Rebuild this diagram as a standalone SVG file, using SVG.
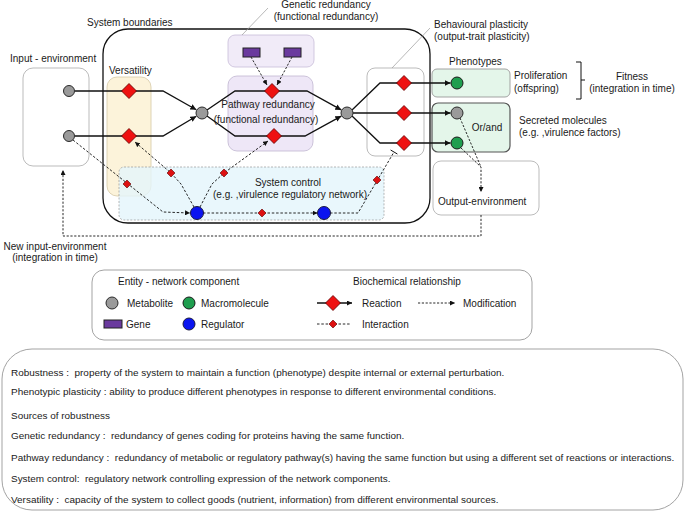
<svg xmlns="http://www.w3.org/2000/svg" width="685" height="512" viewBox="0 0 685 512">
<defs>
<style>
text{font-family:"Liberation Sans",Arial,sans-serif;font-size:10px;fill:#1a1a1a;white-space:pre}
.sm{font-size:9.95px}
.mid{text-anchor:middle}
.met{fill:#9a9a9a;stroke:#2a2a2a;stroke-width:1}
.mac{fill:#1f9e4f;stroke:#1a1a1a;stroke-width:1}
.reg{fill:#0a14f0;stroke:#1a1a40;stroke-width:1}
.gene{fill:#6a3a9e;stroke:#222;stroke-width:1}
.rx{fill:#ee1111;stroke:#5a0000;stroke-width:0.8}
.ix{fill:#dd1111;stroke:#5a0000;stroke-width:0.6}
.react{fill:none;stroke:#111;stroke-width:1.3}
.mod{fill:none;stroke:#111;stroke-width:0.9;stroke-dasharray:2.2,1.6}
.int{fill:none;stroke:#111;stroke-width:0.9;stroke-dasharray:2.5,1.8}
.lead{fill:none;stroke:#999;stroke-width:0.7}
.env{fill:#fff;stroke:#aaa;stroke-width:0.8}
</style>
<marker id="ah" viewBox="0 0 10 10" refX="10" refY="5" markerWidth="6" markerHeight="6" markerUnits="userSpaceOnUse" orient="auto">
<path d="M0,0 L10,5 L0,10 z" fill="#111"/>
</marker>
<marker id="ahs" viewBox="0 0 10 10" refX="10" refY="5" markerWidth="5" markerHeight="5" markerUnits="userSpaceOnUse" orient="auto">
<path d="M0,0 L10,5 L0,10 z" fill="#111"/>
</marker>
<path id="dia" d="M0,-7.5 L7.5,0 L0,7.5 L-7.5,0 z"/>
<path id="sdia" d="M0,-4 L4,0 L0,4 L-4,0 z"/>
</defs>
<rect width="685" height="512" fill="#fff"/>

<!-- region boxes -->
<g id="input-environment">
<rect x="23" y="68" width="66" height="98" rx="10" class="env"/>
<text x="10" y="62">Input - environment</text>
</g>
<g id="system-boundaries">
<rect x="103" y="29" width="327" height="194" rx="25" fill="none" stroke="#111" stroke-width="1.3"/>
<text x="87" y="26">System boundaries</text>
</g>
<g id="versatility">
<rect x="107" y="77" width="44" height="119" rx="10" fill="#fcf3da" stroke="#d6c9a6" stroke-width="0.8"/>
<text x="109" y="74">Versatility</text>
</g>
<g id="genetic-redundancy">
<rect x="228" y="35" width="86" height="32" rx="7" fill="#f1ebf8" stroke="#c8bcd8" stroke-width="0.8"/>
<line x1="242" y1="35" x2="268" y2="8" class="lead"/>
<text x="326" y="8" class="mid">Genetic redundancy</text>
<text x="326" y="20" class="mid">(functional redundancy)</text>
</g>
<g id="pathway-redundancy">
<rect x="228" y="76" width="85" height="75" rx="9" fill="#eee7f7" stroke="#c0b6d0" stroke-width="0.8"/>
</g>
<g id="system-control">
<rect x="119" y="167" width="265" height="53" rx="5" fill="#e3f5fb" fill-opacity="0.8" stroke="#888" stroke-width="0.6" stroke-dasharray="2,1.5"/>
<text x="288" y="186" class="mid">System control</text>
<text x="290" y="197.5" class="mid">(e.g. ,virulence regulatory network)</text>
</g>
<g id="behavioural-plasticity">
<rect x="367" y="68" width="57" height="88" rx="8" fill="none" stroke="#aaa" stroke-width="0.8"/>
<line x1="392" y1="68" x2="430" y2="28" class="lead"/>
<text x="434" y="28">Behavioural plasticity</text>
<text x="434" y="39.5">(output-trait plasticity)</text>
</g>
<g id="phenotypes">
<text x="449" y="65">Phenotypes</text>
<rect x="432" y="69" width="78" height="28" rx="5" fill="#e4f6ea" stroke="#999" stroke-width="0.9"/>
<rect x="432" y="103" width="78" height="49" rx="6" fill="#e4f6ea" stroke="#555" stroke-width="1.2"/>
<text x="487" y="131" class="mid">Or/and</text>
<text x="514" y="79">Proliferation</text>
<text x="514" y="92">(offspring)</text>
<path d="M576,62 H581 V99 H576 M581,80 H585" fill="none" stroke="#111" stroke-width="1"/>
<text x="632" y="79.5" class="mid">Fitness</text>
<text x="632" y="92" class="mid">(integration in time)</text>
<text x="519" y="123.5">Secreted molecules</text>
<text x="519" y="136">(e.g. ,virulence factors)</text>
</g>
<g id="output-environment">
<rect x="433" y="161" width="106" height="54" rx="8" class="env"/>
<text x="438" y="204.5">Output-environment</text>
</g>
<g id="new-input-label">
<text x="55" y="249.5" class="mid">New input-environment</text>
<text x="55" y="261" class="mid">(integration in time)</text>
</g>
<g id="pathway-label">
<text x="268" y="108" class="mid">Pathway redundancy</text>
<text x="266" y="123" class="mid">(functional redundancy)</text>
</g>

<!-- connectors -->
<g id="connectors">
<polyline class="react" points="75,91 163,91 196.3,109.8" marker-end="url(#ah)"/>
<polyline class="react" points="75,136 163,136 196.3,116.2" marker-end="url(#ah)"/>
<polyline class="react" points="207,110 235,91 307,91 341.3,109.9" marker-end="url(#ah)"/>
<polyline class="react" points="207,116 235,136 305,136 341.3,116.1" marker-end="url(#ah)"/>
<polyline class="react" points="352,110 380,83 450.5,83" marker-end="url(#ah)"/>
<polyline class="react" points="353,113 450.5,113" marker-end="url(#ah)"/>
<polyline class="react" points="352,116 380,143 450.5,143" marker-end="url(#ah)"/>
<line class="mod" x1="251" y1="57" x2="267" y2="85" marker-end="url(#ahs)"/>
<line class="mod" x1="292" y1="57" x2="277" y2="85" marker-end="url(#ahs)"/>
<polyline class="mod" points="460,118 481,167" />
<polyline class="mod" points="461,148 481,167 481,192" marker-end="url(#ahs)"/>
<polyline class="mod" points="481,215 481,236 63,236 63,170" marker-end="url(#ahs)"/>
<polyline class="int" points="73,140 163,212 190,213" marker-end="url(#ahs)"/>
<polyline class="int" points="194,207 181,184 171,173 135,142" marker-end="url(#ahs)"/>
<polyline class="int" points="200,207 212,184 224,173 268,141" marker-end="url(#ahs)"/>
<polyline class="int" points="203,213 317.5,213" marker-end="url(#ahs)"/>
<polyline class="int" points="330,213 358,213 394,152"/>
<line x1="390.6" y1="150" x2="397.4" y2="154" stroke="#111" stroke-width="1"/>
</g>

<!-- nodes -->
<g id="metabolite-in-1"><circle cx="69" cy="91" r="5.5" class="met"/></g>
<g id="metabolite-in-2"><circle cx="69" cy="136" r="5.5" class="met"/></g>
<g id="reaction-v1"><use href="#dia" x="129" y="91" class="rx"/></g>
<g id="reaction-v2"><use href="#dia" x="129" y="136" class="rx"/></g>
<g id="metabolite-hub-1"><circle cx="202" cy="113" r="6" class="met"/></g>
<g id="gene-1"><rect x="243" y="48" width="17" height="9" class="gene"/></g>
<g id="gene-2"><rect x="284" y="48" width="17" height="9" class="gene"/></g>
<g id="reaction-p1"><use href="#dia" x="272" y="91" class="rx"/></g>
<g id="reaction-p2"><use href="#dia" x="274" y="136" class="rx"/></g>
<g id="metabolite-hub-2"><circle cx="347" cy="113" r="6" class="met"/></g>
<g id="reaction-o1"><use href="#dia" x="404" y="83" class="rx"/></g>
<g id="reaction-o2"><use href="#dia" x="404" y="113" class="rx"/></g>
<g id="reaction-o3"><use href="#dia" x="404" y="143" class="rx"/></g>
<g id="macromolecule-1"><circle cx="457" cy="83" r="6" class="mac"/></g>
<g id="metabolite-out"><circle cx="457" cy="113" r="6" class="met"/></g>
<g id="macromolecule-2"><circle cx="457" cy="143" r="6" class="mac"/></g>
<g id="regulator-1"><circle cx="197" cy="213" r="6.5" class="reg"/></g>
<g id="regulator-2"><circle cx="324" cy="213" r="6.5" class="reg"/></g>
<g id="interaction-1"><use href="#sdia" x="127" y="184" class="ix"/></g>
<g id="interaction-2"><use href="#sdia" x="171" y="173" class="ix"/></g>
<g id="interaction-3"><use href="#sdia" x="224" y="173" class="ix"/></g>
<g id="interaction-4"><use href="#sdia" x="262" y="213" class="ix"/></g>
<g id="interaction-5"><use href="#sdia" x="377" y="180" class="ix"/></g>

<!-- legend -->
<g id="legend">
<rect x="92" y="270" width="440" height="70" rx="12" fill="#fff" stroke="#999" stroke-width="0.9"/>
<text x="118" y="285">Entity - network component</text>
<circle cx="112" cy="303" r="6" class="met"/>
<text x="127" y="306.5">Metabolite</text>
<circle cx="189" cy="303" r="6" class="mac"/>
<text x="201" y="306.5">Macromolecule</text>
<rect x="104" y="320" width="18" height="8" class="gene"/>
<text x="126" y="328">Gene</text>
<circle cx="189" cy="324" r="6" class="reg"/>
<text x="201" y="327.5">Regulator</text>
<text x="353" y="285">Biochemical relationship</text>
<line x1="317" y1="303" x2="352" y2="303" class="react" marker-end="url(#ahs)"/>
<use href="#dia" x="333" y="303" class="rx"/>
<text x="362" y="306.5">Reaction</text>
<line x1="418" y1="303" x2="455" y2="303" class="mod" marker-end="url(#ahs)"/>
<text x="463" y="306.5">Modification</text>
<line x1="317" y1="324" x2="350" y2="324" class="int"/>
<use href="#sdia" x="333" y="324" class="ix"/>
<text x="362" y="327.5">Interaction</text>
</g>

<!-- definitions -->
<g id="definitions">
<rect x="2" y="349" width="681" height="161" rx="30" fill="#fff" stroke="#999" stroke-width="0.9"/>
<text class="sm" x="11" y="376">Robustness :  property of the system to maintain a function (phenotype) despite internal or external perturbation.</text>
<text class="sm" x="11" y="395">Phenotypic plasticity : ability to produce different phenotypes in response to different environmental conditions.</text>
<text class="sm" x="11" y="419">Sources of robustness</text>
<text class="sm" x="11" y="439">Genetic redundancy :  redundancy of genes coding for proteins having the same function.</text>
<text class="sm" x="11" y="461">Pathway redundancy :  redundancy of metabolic or regulatory pathway(s) having the same function but using a different set of reactions or interactions.</text>
<text class="sm" x="11" y="482">System control:  regulatory network controlling expression of the network components.</text>
<text class="sm" x="11" y="503">Versatility :  capacity of the system to collect goods (nutrient, information) from different environmental sources.</text>
</g>
</svg>
